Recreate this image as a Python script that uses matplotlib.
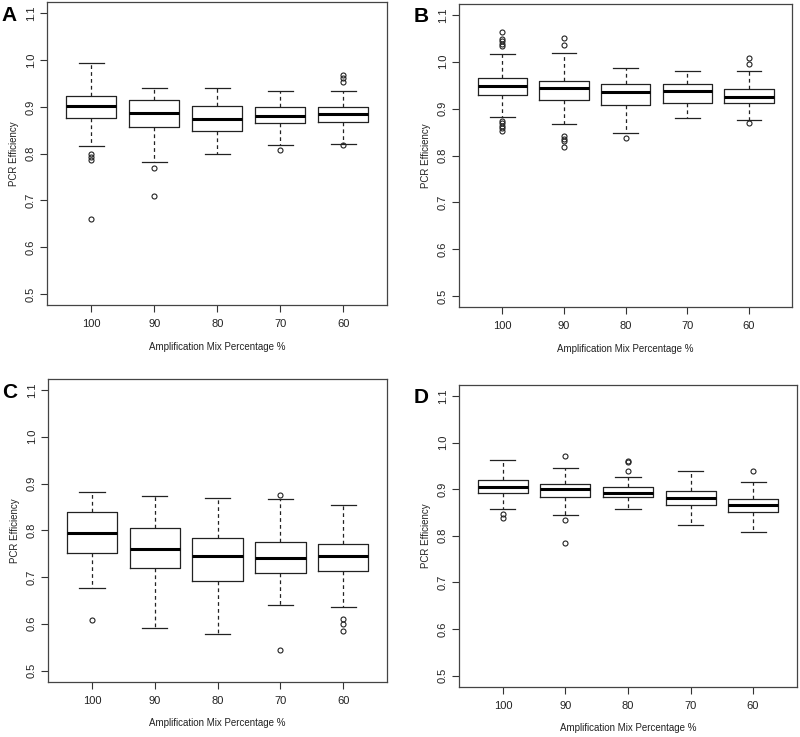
import matplotlib
matplotlib.use("Agg")
import matplotlib.pyplot as plt

plt.rcParams['font.family'] = ['Liberation Sans', 'DejaVu Sans']

groups = ["100", "90", "80", "70", "60"]

# panel A
a_low = [0.817, 0.783, 0.799, 0.818, 0.821]
a_q1 = [0.877, 0.858, 0.848, 0.866, 0.868]
a_med = [0.902, 0.886, 0.875, 0.880, 0.884]
a_q3 = [0.924, 0.915, 0.903, 0.900, 0.899]
a_high = [0.993, 0.940, 0.940, 0.935, 0.935]
a_out = [[0.800, 0.793, 0.786, 0.660], [0.769, 0.709], [], [0.808],
         [0.969, 0.962, 0.954, 0.818]]

# panel B
b_low = [0.882, 0.868, 0.848, 0.880, 0.876]
b_q1 = [0.930, 0.918, 0.907, 0.913, 0.913]
b_med = [0.949, 0.943, 0.936, 0.938, 0.925]
b_q3 = [0.965, 0.960, 0.952, 0.953, 0.942]
b_high = [1.016, 1.019, 0.987, 0.980, 0.980]
b_out = [[1.064, 1.049, 1.044, 1.039, 1.034, 0.874, 0.869, 0.864, 0.858, 0.853],
         [1.050, 1.036, 0.841, 0.836, 0.831, 0.818], [0.837], [],
         [1.008, 0.996, 0.869]]

# panel C
c_low = [0.677, 0.590, 0.579, 0.641, 0.635]
c_q1 = [0.751, 0.719, 0.691, 0.708, 0.713]
c_med = [0.795, 0.759, 0.744, 0.741, 0.744]
c_q3 = [0.839, 0.804, 0.783, 0.774, 0.771]
c_high = [0.881, 0.874, 0.869, 0.866, 0.855]
c_out = [[0.608], [], [], [0.876, 0.543], [0.611, 0.600, 0.585]]

# panel D
d_low = [0.857, 0.845, 0.857, 0.823, 0.809]
d_q1 = [0.891, 0.884, 0.884, 0.866, 0.851]
d_med = [0.904, 0.900, 0.892, 0.881, 0.866]
d_q3 = [0.919, 0.911, 0.904, 0.897, 0.878]
d_high = [0.962, 0.946, 0.926, 0.939, 0.916]
d_out = [[0.847, 0.838], [0.972, 0.833, 0.784], [0.961, 0.959, 0.940], [],
         [0.939]]

panels = [
    ("A", [0.059, 0.586, 0.425, 0.411], a_low, a_q1, a_med, a_q3, a_high, a_out),
    ("B", [0.574, 0.583, 0.416, 0.412], b_low, b_q1, b_med, b_q3, b_high, b_out),
    ("C", [0.060, 0.075, 0.424, 0.411], c_low, c_q1, c_med, c_q3, c_high, c_out),
    ("D", [0.574, 0.068, 0.422, 0.410], d_low, d_q1, d_med, d_q3, d_high, d_out),
]

fig = plt.figure(figsize=(8, 7.37), dpi=100)

for letter, rect, lo, q1, med, q3, hi, out in panels:
    ax = fig.add_axes(rect)
    stats = []
    for i in range(len(groups)):
        stats.append(dict(whislo=lo[i], q1=q1[i], med=med[i], q3=q3[i],
                          whishi=hi[i], fliers=out[i]))
    ax.bxp(stats, positions=range(1, 6), widths=0.8, showfliers=True,
           boxprops=dict(color="#222222", linewidth=0.9),
           medianprops=dict(color="black", linewidth=2.2),
           whiskerprops=dict(color="#222222", linewidth=0.9, linestyle=(0, (3, 2.5))),
           capprops=dict(color="#222222", linewidth=0.9),
           flierprops=dict(marker="o", markersize=3.6, markerfacecolor="none",
                           markeredgecolor="#222222", markeredgewidth=0.8))
    ax.set_xlim(0.3, 5.7)
    ax.set_ylim(0.476, 1.124)
    ax.set_xticks(range(1, 6))
    ax.set_xticklabels(groups, fontsize=8)
    ax.set_yticks([0.5, 0.6, 0.7, 0.8, 0.9, 1.0, 1.1])
    ax.set_yticklabels(["0.5", "0.6", "0.7", "0.8", "0.9", "1.0", "1.1"],
                       fontsize=8, rotation=90, va="center")
    ax.tick_params(direction="out", length=5, width=0.8, colors="#333333",
                   labelcolor="#222222")
    ax.tick_params(axis="x", pad=5)
    ax.tick_params(axis="y", pad=3)
    for s in ax.spines.values():
        s.set_linewidth(0.9)
        s.set_color("#444444")
    ax.set_xlabel("Amplification Mix Percentage %", fontsize=7, labelpad=9,
                  color="#222222")
    ax.set_ylabel("PCR Efficiency", fontsize=7, labelpad=5, color="#222222")
    fig.text(rect[0] - 0.057, rect[1] + rect[3] - 0.005, letter, fontsize=15,
             fontweight="bold", ha="left", va="top")

fig.savefig("out.png", dpi=100)
